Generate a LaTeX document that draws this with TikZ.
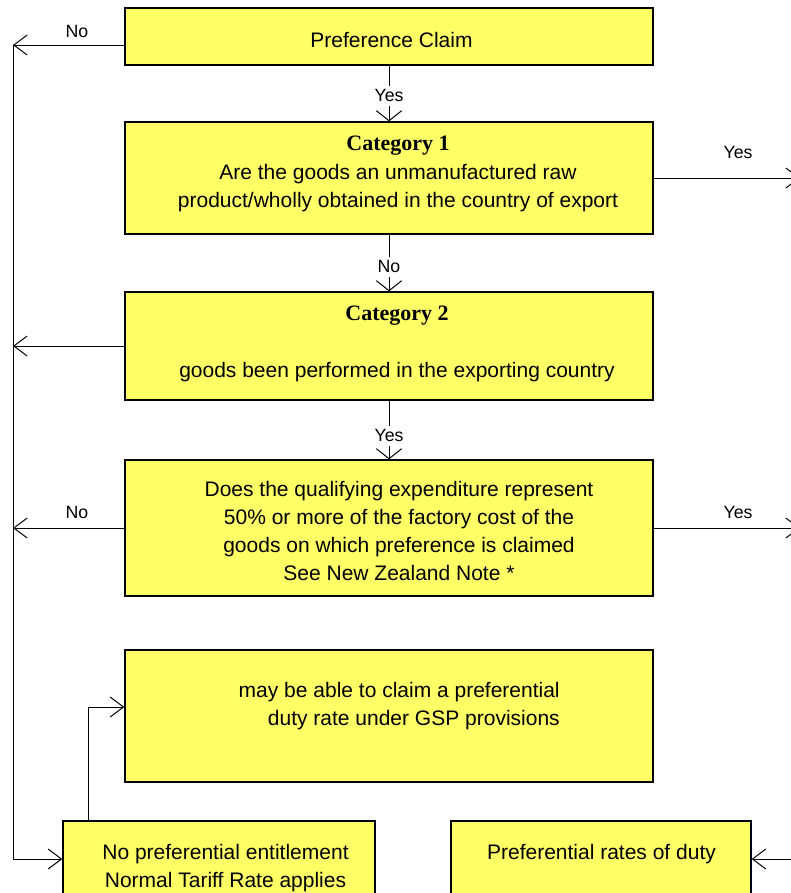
\documentclass[tikz,border=0pt]{standalone}
\usepackage{fontspec}
\setmainfont{Liberation Sans}
\newfontfamily\serifcat{Liberation Serif}
\usetikzlibrary{arrows.meta}
\definecolor{boxyellow}{RGB}{255,255,102}
\newcommand{\catfnt}{\serifcat\bfseries\fontsize{16.5}{21}\selectfont}
\begin{document}
\begin{tikzpicture}[x=0.75pt,y=-0.75pt,
  box/.style={draw=black, line width=1pt, fill=boxyellow, rectangle, inner sep=0pt},
  txt/.style={align=center, font=\fontsize{15.75}{21}\selectfont, inner sep=0pt},
  lbl/.style={font=\fontsize{13.3}{16}\selectfont, inner sep=1pt},
  conn/.style={line width=0.75pt, draw=black},
  harr/.style={conn, -{Straight Barb[length=10pt,width=15pt]}},
  varr/.style={conn, -{Straight Barb[length=7.5pt,width=19pt]}},
]
\useasboundingbox (0,0) rectangle (790,893);

% boxes
\node[box, minimum width=396pt, minimum height=42.75pt] (b1) at (389,36.5) {};
\node[box, minimum width=396pt, minimum height=84pt] (b2) at (389,178) {};
\node[box, minimum width=396pt, minimum height=81pt] (b3) at (389,346) {};
\node[box, minimum width=396pt, minimum height=102pt] (b4) at (389,528) {};
\node[box, minimum width=396pt, minimum height=99pt] (b5) at (389,716) {};
\node[box, minimum width=234pt, minimum height=57pt] (b6) at (219,859) {};
\node[box, minimum width=225pt, minimum height=57pt] (b7) at (601,859) {};

% texts
\node[txt] (t1) at (391.5,40) {Preference Claim};
\node[txt] (t2) at (398,173.6) {{\catfnt Category 1}\\[1pt] Are the goods an unmanufactured raw\\ product/wholly obtained in the country of export};
\node[txt] (t3) at (397,343.7) {{\catfnt Category 2}\\[21.4pt] goods been performed in the exporting country};
\node[txt] (t4) at (399,530.7) {Does the qualifying expenditure represent\\ 50\% or more of the factory cost of the\\ goods on which preference is claimed\\ See New Zealand Note *};
\node[txt, align=right, anchor=east] (t5) at (560,706.5) {may be able to claim a preferential\\ duty rate under GSP provisions};
\node[txt] (t6) at (225.5,868) {No preferential entitlement\\ Normal Tariff Rate applies};
\node[txt] (t7) at (601.5,854) {Preferential rates of duty};

% helper coordinates
\coordinate (L1) at (13,45);
\coordinate (L6) at (13,859);
\coordinate (R) at (800,0);
\coordinate (U) at (88,707);

% left trunk
\draw[harr] (b1.west |- L1) -- (L1);
\draw[conn] (L1) -- (L6);
\draw[harr] (L6) -- (b6.west);
\draw[harr] (b3.west) -- (b3.west -| L1);
\draw[harr] (b4.west) -- (b4.west -| L1);

% vertical flow
\draw[varr] (b1.south) -- (b2.north) node[lbl, fill=white, inner ysep=3pt, pos=0.54] (y1) {Yes};
\draw[varr] (b2.south) -- (b3.north) node[lbl, fill=white, inner ysep=3pt, pos=0.57] (n2) {No};
\draw[varr] (b3.south) -- (b4.north) node[lbl, fill=white, inner ysep=3pt, pos=0.6] (y3) {Yes};

% right arrows
\draw[harr] (b2.east) -- (b2.east -| R);
\draw[harr] (b4.east) -- (b4.east -| R);
\draw[harr] (b7.east -| R) -- (b7.east);

% back to GSP box
\draw[harr] (b6.north -| U) |- (b5.west |- U);

% side labels
\node[lbl] (n1) at (77,31) {No};
\node[lbl] (y2) at (738,152) {Yes};
\node[lbl] (n4) at (77,512) {No};
\node[lbl] (y4) at (738,512) {Yes};
\end{tikzpicture}
\end{document}
